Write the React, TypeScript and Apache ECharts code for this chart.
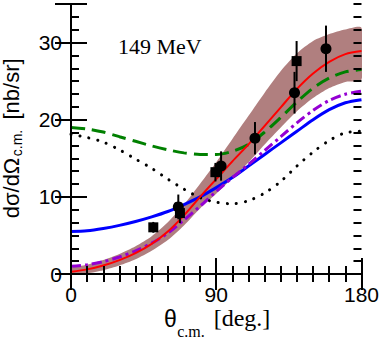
import React, { useEffect, useRef } from "react";
import * as echarts from "echarts";

const theta = [0, 10, 20, 30, 40, 50, 60, 70, 80, 90, 100, 110, 120, 130, 140, 150, 160, 170, 180];
const redCurve = [0.3, 0.6, 1.1, 1.8, 2.7, 3.9, 5.5, 7.6, 10.0, 12.3, 14.6, 16.8, 19.2, 21.6, 24.0, 26.0, 27.5, 28.5, 28.9];
const bandHigh = [0.8, 1.2, 1.8, 2.6, 3.6, 4.9, 6.7, 9.0, 11.7, 14.5, 17.5, 20.5, 23.5, 26.3, 28.6, 30.2, 31.1, 31.7, 31.9];
const bandLow = [0.0, 0.1, 0.5, 1.1, 1.9, 3.0, 4.4, 6.3, 8.5, 10.4, 12.4, 14.5, 16.8, 19.0, 21.1, 22.8, 24.1, 24.9, 25.2];
const greenCurve = [19.0, 18.8, 18.4, 17.8, 17.2, 16.6, 16.1, 15.7, 15.5, 15.5, 15.9, 16.8, 18.4, 20.3, 22.3, 24.1, 25.4, 26.2, 26.5];
const blueCurve = [5.5, 5.6, 5.9, 6.3, 6.8, 7.4, 8.1, 9.0, 10.0, 11.2, 12.5, 14.0, 15.5, 17.0, 18.5, 20.0, 21.3, 22.2, 22.6];
const purpleCurve = [1.0, 1.2, 1.6, 2.2, 3.0, 4.0, 5.3, 7.0, 8.8, 10.7, 12.5, 14.2, 16.0, 17.8, 19.6, 21.2, 22.5, 23.3, 23.7];
const dottedCurve = [18.1, 17.7, 17.1, 16.1, 14.9, 13.7, 12.3, 11.0, 9.9, 9.3, 9.1, 9.5, 10.5, 12.0, 14.0, 15.8, 17.3, 18.3, 18.5];

// [theta, value, error]
const circles = [
  [66.5, 8.7, 1.6],
  [93.0, 14.0, 1.9],
  [114.0, 17.6, 2.1],
  [138.5, 23.5, 2.7],
  [158.0, 29.2, 3.0],
];
const squares = [
  [51.0, 6.05, 0.7],
  [67.5, 7.9, 1.3],
  [89.5, 13.2, 1.2],
  [139.8, 27.6, 2.6],
];

const yMajorTicks = [0, 10, 20, 30];
const xMajorTicks = [0, 90, 180];
const energyLabel = "149 MeV";

const pair = (ys: number[]) => theta.map((t, i) => [t, ys[i]]);

export default function App() {
  const ref = useRef<HTMLDivElement>(null);
  useEffect(() => {
    if (!ref.current) return;
    const chart = echarts.init(ref.current, undefined, { renderer: "svg" });
    const sans = "'Liberation Sans', Arial, sans-serif";
    const serif = "'Liberation Serif', 'Times New Roman', serif";
    const tickStyle = { color: "#000", width: 2 };
    const baseX = {
      type: "value",
      min: 0,
      max: 180,
      interval: 90,
      axisLine: { show: true, lineStyle: { color: "#000", width: 2 } },
      axisTick: { show: true, inside: true, length: 16, lineStyle: tickStyle },
      minorTick: { show: true, splitNumber: 9, length: 8, lineStyle: tickStyle },
      splitLine: { show: false },
      z: 10,
    };
    const baseY = {
      type: "value",
      min: 0,
      max: 35,
      interval: 10,
      axisLine: { show: true, lineStyle: { color: "#000", width: 2 } },
      axisTick: { show: true, inside: true, length: 16, lineStyle: tickStyle },
      splitLine: { show: false },
      z: 10,
    };
    const minorY = {
      type: "value",
      min: 0,
      max: 35,
      interval: 10 / 6,
      axisLine: { show: false },
      axisLabel: { show: false },
      axisTick: { show: true, inside: true, length: 8, lineStyle: tickStyle },
      splitLine: { show: false },
      z: 10,
    };
    const lineSeries = (data: number[], color: string, width: number, type: any, z: number, extra: any = {}) => ({
      type: "line",
      data: pair(data),
      symbol: "none",
      smooth: 0.3,
      z,
      lineStyle: { color, width, type, ...extra },
      silent: true,
    });
    const errorBars = circles.concat(squares);
    const textStyle = (text: string, family: string, size: number, align: string) => ({
      text,
      fill: "#000",
      fontFamily: family,
      fontSize: size,
      align,
      verticalAlign: "middle",
      textAlign: align,
      textVerticalAlign: "middle",
    });
    chart.setOption({
      animation: false,
      grid: { left: 71, right: 20, top: 4, bottom: 65, show: false },
      xAxis: [
        {
          ...baseX,
          position: "bottom",
          axisLabel: {
            show: true,
            color: "#000",
            fontFamily: sans,
            fontSize: 21,
            margin: 10,
            formatter: (v: number) => (xMajorTicks.includes(v) ? String(v) : ""),
          },
        },
        { ...baseX, position: "top", axisLabel: { show: false } },
      ],
      yAxis: [
        {
          ...baseY,
          position: "left",
          axisLabel: {
            show: true,
            color: "#000",
            fontFamily: sans,
            fontSize: 21,
            margin: 9,
            formatter: (v: number) => (yMajorTicks.includes(v) ? String(v) : ""),
          },
        },
        { ...baseY, position: "right", axisLabel: { show: false } },
        { ...minorY, position: "left" },
        { ...minorY, position: "right" },
      ],
      series: [
        {
          type: "custom",
          coordinateSystem: "cartesian2d",
          data: [[0, 0]],
          encode: { x: 0, y: 1 },
          z: 1,
          silent: true,
          clip: true,
          renderItem: (params: any, api: any) => {
            if (params.dataIndex !== 0) return null;
            const upper = theta.map((t, i) => api.coord([t, bandHigh[i]]));
            const lower = theta.map((t, i) => api.coord([t, bandLow[i]])).reverse();
            return {
              type: "polygon",
              shape: { points: upper.concat(lower), smooth: 0.25 },
              style: { fill: "#b07f7f", stroke: "none" },
            };
          },
        },
        lineSeries(greenCurve, "#008000", 3, [14, 7], 3),
        lineSeries(blueCurve, "#0000ff", 3, "solid", 3),
        lineSeries(purpleCurve, "#9400d3", 3, [10, 4, 3, 4], 3),
        lineSeries(dottedCurve, "#000000", 3, [0.1, 9], 3, { cap: "round" }),
        lineSeries(redCurve, "#ff0000", 2, "solid", 4),
        {
          type: "custom",
          coordinateSystem: "cartesian2d",
          data: errorBars,
          encode: { x: 0, y: 1 },
          z: 5,
          silent: true,
          renderItem: (params: any, api: any) => {
            const x = api.value(0);
            const y = api.value(1);
            const e = api.value(2);
            const p1 = api.coord([x, y - e]);
            const p2 = api.coord([x, y + e]);
            return {
              type: "line",
              shape: { x1: p1[0], y1: p1[1], x2: p2[0], y2: p2[1] },
              style: { stroke: "#000", lineWidth: 2 },
            };
          },
        },
        {
          type: "scatter",
          data: circles.map((d) => [d[0], d[1]]),
          symbol: "circle",
          symbolSize: 11,
          itemStyle: { color: "#000", opacity: 1 },
          z: 6,
          silent: true,
        },
        {
          type: "scatter",
          data: squares.map((d) => [d[0], d[1]]),
          symbol: "rect",
          symbolSize: 10,
          itemStyle: { color: "#000", opacity: 1 },
          z: 6,
          silent: true,
        },
      ],
      graphic: [
        { type: "text", x: 118, y: 46, z: 20, style: textStyle(energyLabel, serif, 22, "left") },
        { type: "text", x: 11, y: 188, rotation: Math.PI / 2, style: textStyle("dσ/dΩ", sans, 22, "center") },
        { type: "text", x: 17, y: 143, rotation: Math.PI / 2, style: textStyle("c.m.", sans, 14, "center") },
        { type: "text", x: 11, y: 89, rotation: Math.PI / 2, style: textStyle("[nb/sr]", sans, 22, "center") },
        { type: "text", x: 170.5, y: 319, style: textStyle("θ", sans, 23, "center") },
        { type: "text", x: 191, y: 331.5, style: textStyle("c.m.", serif, 16, "center") },
        { type: "text", x: 242, y: 318, style: textStyle("[deg.]", serif, 24, "center") },
      ],
    });
    return () => chart.dispose();
  }, []);
  return (
    <div
      ref={ref}
      style={{ position: "fixed", left: 0, top: 0, width: 382, height: 339, background: "#fff" }}
    />
  );
}
